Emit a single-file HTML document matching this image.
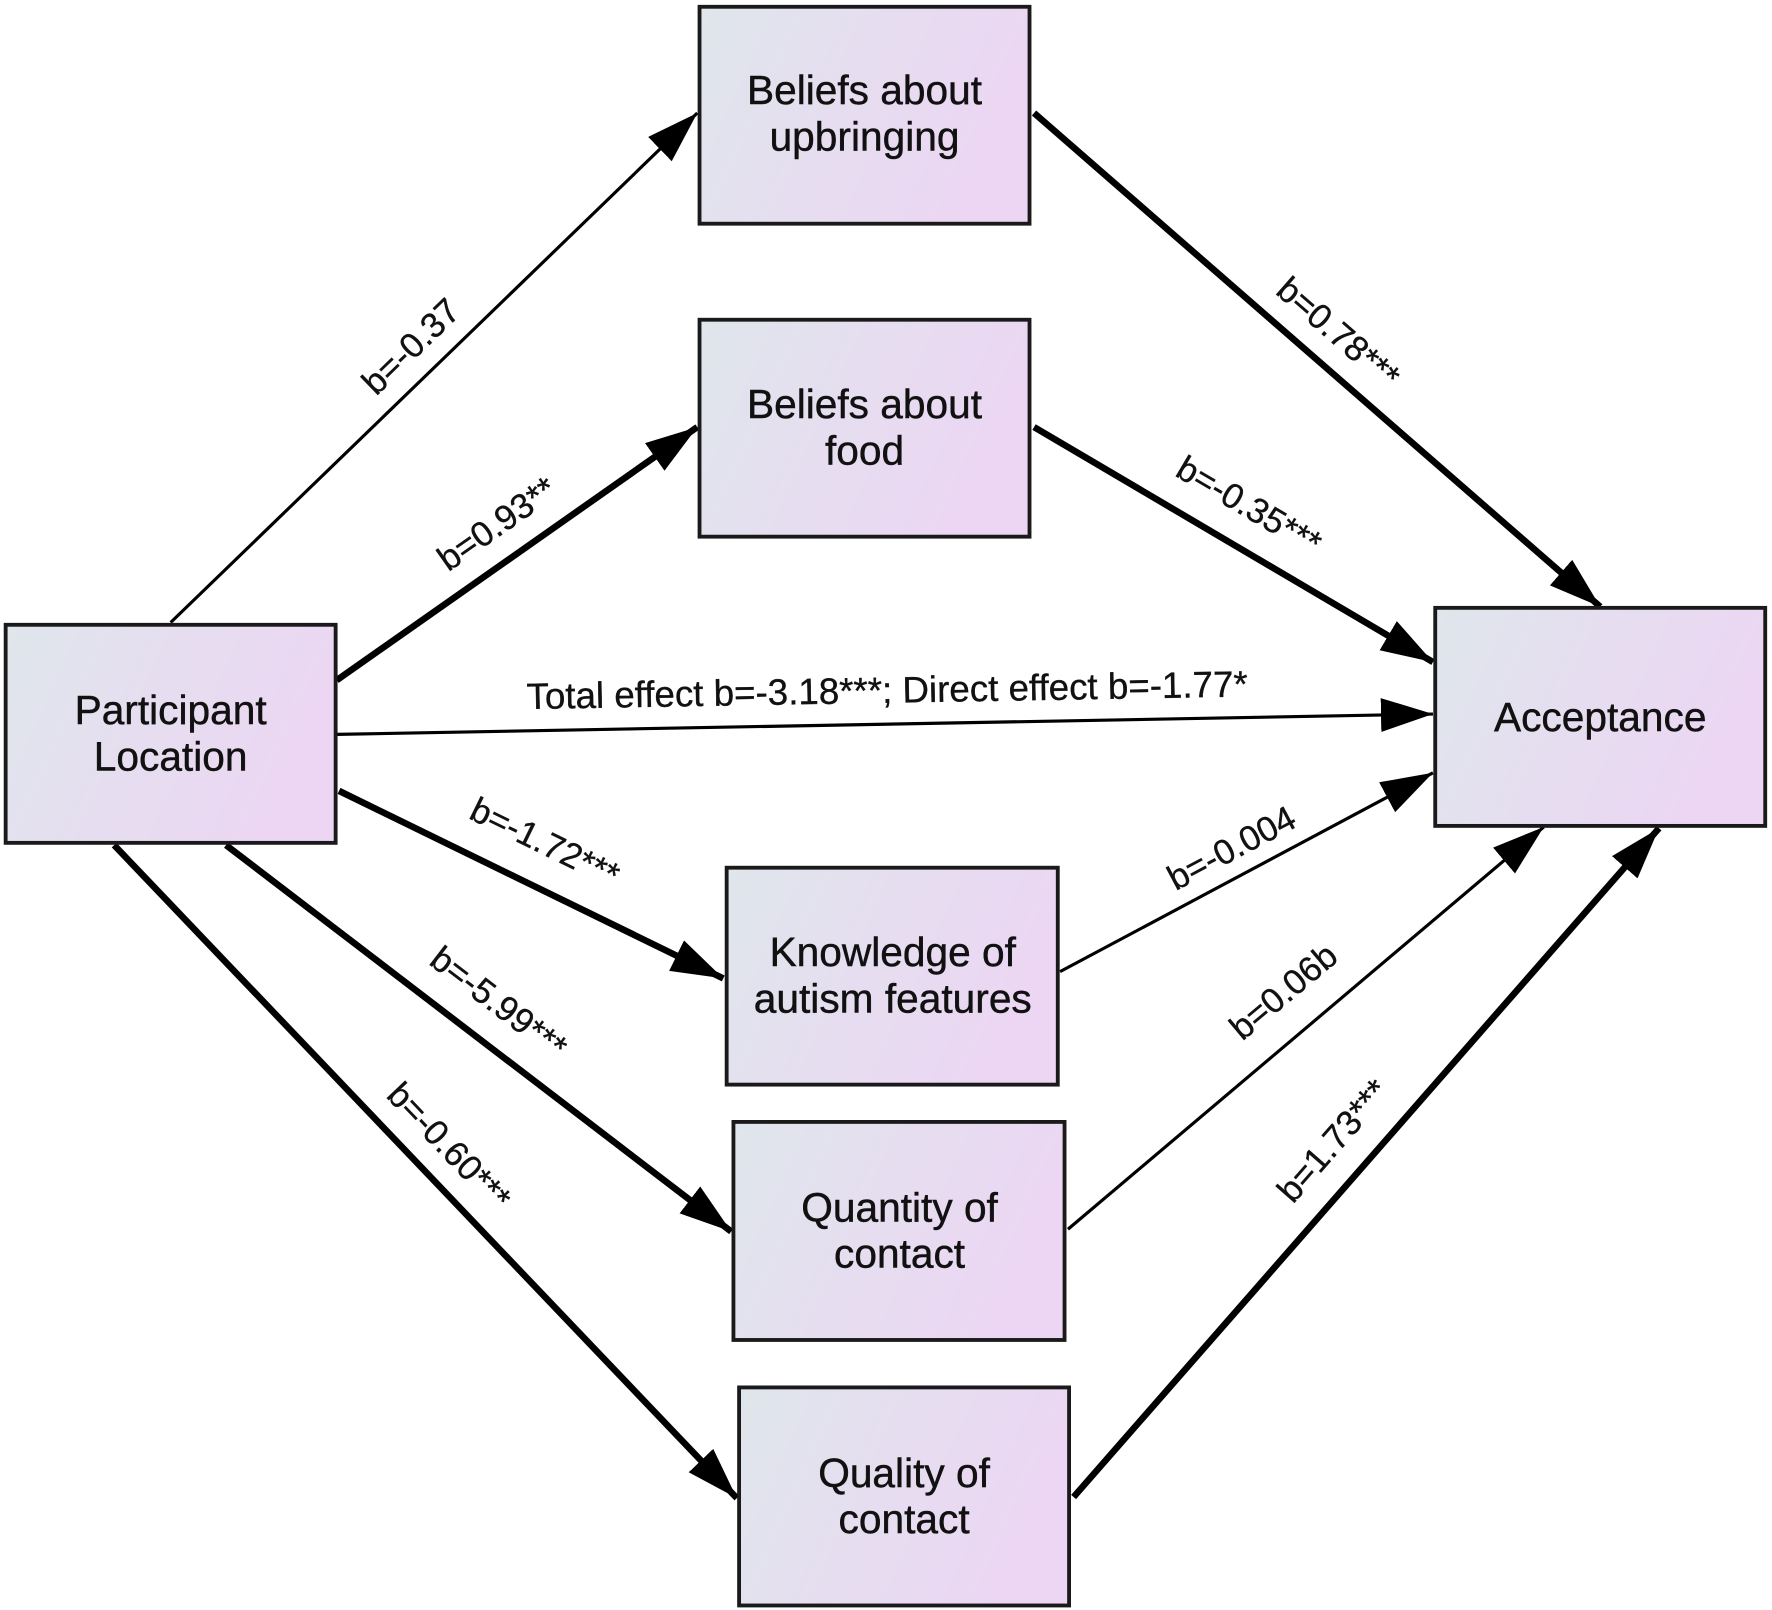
<!DOCTYPE html>
<html><head><meta charset="utf-8"><style>
html,body{margin:0;padding:0;background:#fff;}
svg{display:block;}
text{font-family:"Liberation Sans",Arial,sans-serif;fill:#111;}
</style></head><body>
<svg width="1772" height="1610" viewBox="0 0 1568 1425" preserveAspectRatio="none" xmlns="http://www.w3.org/2000/svg">
<defs>
<linearGradient id="g" x1="0" y1="0" x2="1" y2="0.3">
<stop offset="0" stop-color="#dfe6ec"/><stop offset="1" stop-color="#ecd6f3"/>
</linearGradient>
<marker id="a" markerUnits="userSpaceOnUse" markerWidth="48" markerHeight="32" refX="46" refY="15" orient="auto">
<path d="M0,0 L46,15 L0,30 Z" fill="#000"/>
</marker>
</defs>
<g stroke="#000" fill="none">
<line x1="151" y1="551" x2="617" y2="100" stroke-width="2.8" marker-end="url(#a)"/>
<line x1="298" y1="602" x2="617" y2="378" stroke-width="5.8" marker-end="url(#a)"/>
<line x1="298" y1="650" x2="1268" y2="632" stroke-width="2.8" marker-end="url(#a)"/>
<line x1="300" y1="700" x2="640" y2="866" stroke-width="5.8" marker-end="url(#a)"/>
<line x1="200" y1="748" x2="647" y2="1090" stroke-width="5.8" marker-end="url(#a)"/>
<line x1="101" y1="748" x2="652" y2="1326" stroke-width="5.8" marker-end="url(#a)"/>
<line x1="915" y1="100" x2="1416" y2="537" stroke-width="5.8" marker-end="url(#a)"/>
<line x1="915" y1="378" x2="1268" y2="586" stroke-width="5.8" marker-end="url(#a)"/>
<line x1="938" y1="860" x2="1268" y2="684" stroke-width="2.8" marker-end="url(#a)"/>
<line x1="945" y1="1088" x2="1366" y2="732" stroke-width="2.8" marker-end="url(#a)"/>
<line x1="950" y1="1325" x2="1468" y2="733" stroke-width="5.8" marker-end="url(#a)"/>
</g>
<g stroke="#1a1a1a" stroke-width="3.4" fill="url(#g)">
<rect x="5" y="553" width="292" height="193"/>
<rect x="619" y="6" width="292" height="192"/>
<rect x="619" y="283" width="292" height="192"/>
<rect x="1270" y="538" width="292" height="193"/>
<rect x="643" y="768" width="293" height="192"/>
<rect x="649" y="993" width="293" height="193"/>
<rect x="654" y="1228" width="292" height="193"/>
</g>
<g font-size="36" text-anchor="middle" stroke="#111" stroke-width="0.4">
<text x="151" y="641">Participant</text><text x="151" y="682">Location</text>
<text x="765" y="92">Beliefs about</text><text x="765" y="133">upbringing</text>
<text x="765" y="370">Beliefs about</text><text x="765" y="411">food</text>
<text x="1416" y="647">Acceptance</text>
<text x="790" y="855">Knowledge of</text><text x="790" y="896">autism features</text>
<text x="796" y="1081">Quantity of</text><text x="796" y="1122">contact</text>
<text x="800" y="1316">Quality of</text><text x="800" y="1357">contact</text>
</g>
<g font-size="31" text-anchor="middle" stroke="#111" stroke-width="0.3">
<text transform="translate(364,307) rotate(-44)" y="10">b=-0.37</text>
<text transform="translate(440,464) rotate(-35)" y="10">b=0.93**</text>
<text transform="translate(785,612) rotate(-1)" y="10" font-size="32.5">Total effect b=-3.18***; Direct effect b=-1.77*</text>
<text transform="translate(482,746) rotate(26)" y="10">b=-1.72***</text>
<text transform="translate(441,888) rotate(37.4)" y="10">b=-5.99***</text>
<text transform="translate(397,1015) rotate(46.4)" y="10">b=-0.60***</text>
<text transform="translate(1184,295) rotate(41)" y="10">b=0.78***</text>
<text transform="translate(1105,448) rotate(30.5)" y="10">b=-0.35***</text>
<text transform="translate(1090,751) rotate(-28)" y="10">b=-0.004</text>
<text transform="translate(1136,878) rotate(-40)" y="10">b=0.06b</text>
<text transform="translate(1180,1010) rotate(-48.8)" y="10">b=1.73***</text>
</g>
</svg>
</body></html>
